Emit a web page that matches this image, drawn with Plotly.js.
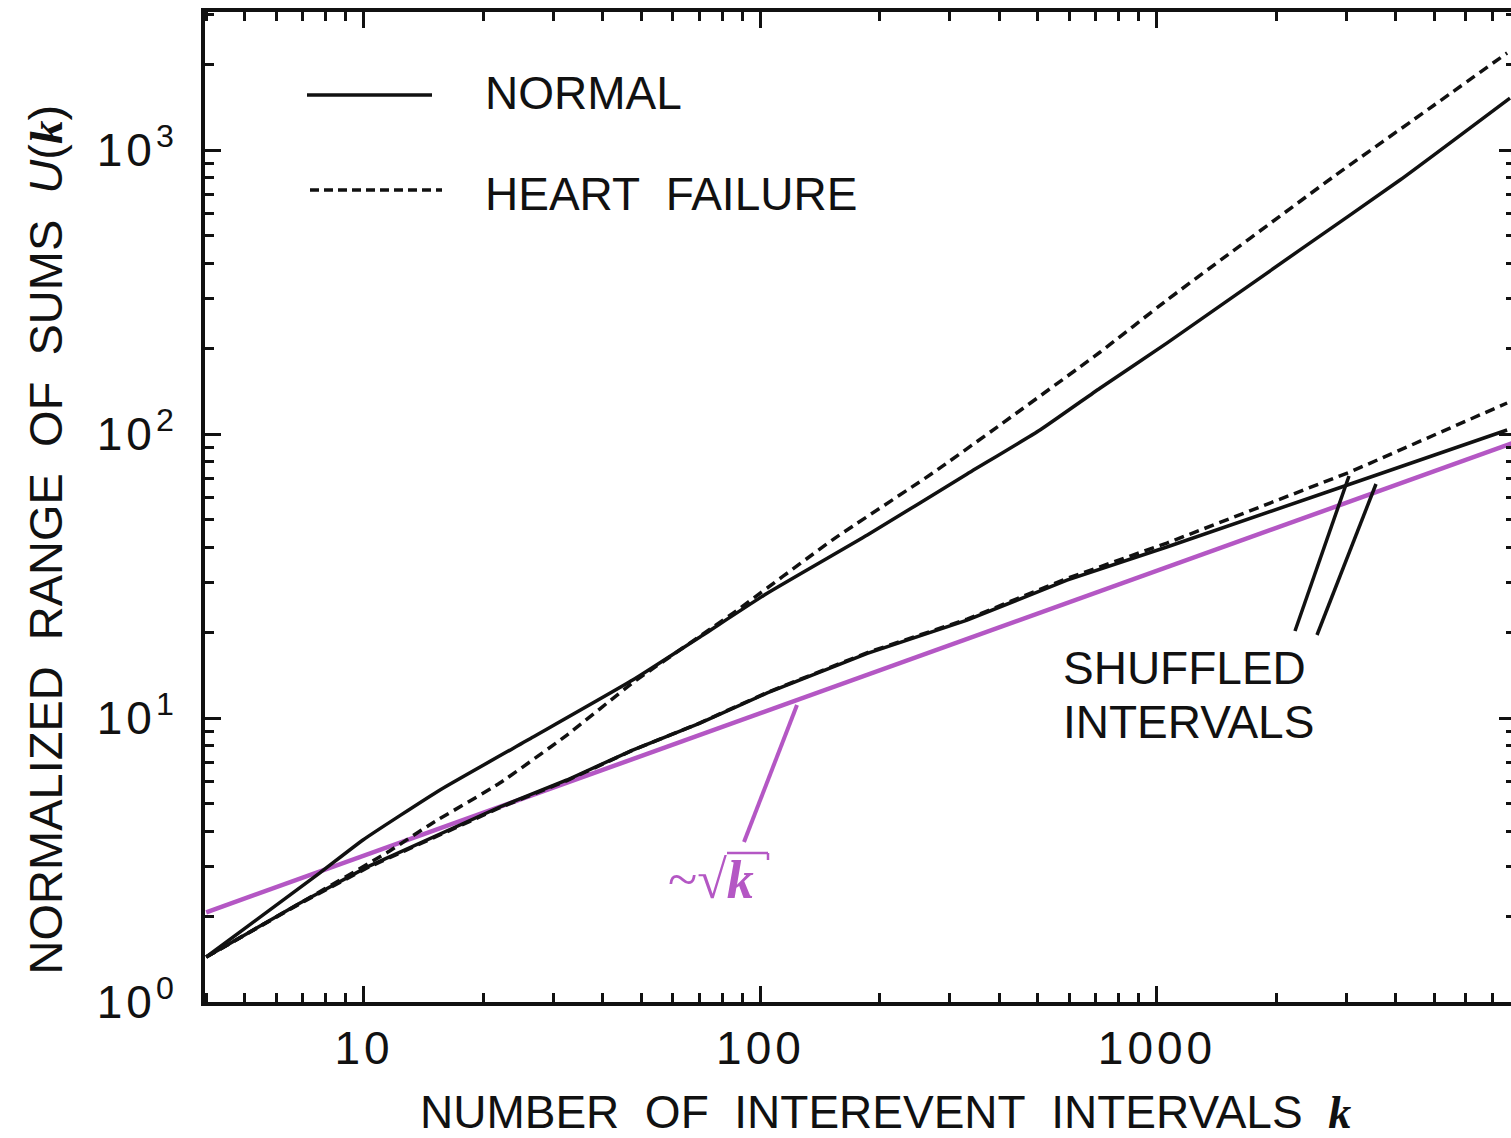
<!DOCTYPE html>
<html><head><meta charset="utf-8">
<script src="https://cdn.plot.ly/plotly-3.0.1.min.js"></script>
<style>
html,body{margin:0;padding:0;overflow:hidden;background:#fff;}
#chart{width:1516px;height:1138px;}
.xtick text,.ytick text{letter-spacing:4px;}
</style></head><body><div id="chart"></div>
<script>
// ---- data (k, U(k)) ----
const kNormal = [4.0, 7.74, 9.94, 15.55, 26.7, 47.6, 70.4, 104, 186, 332, 507, 718, 1059, 2295, 4102, 7769];
const uNormal = [1.44, 2.85, 3.72, 5.58, 8.57, 13.6, 19.3, 27.5, 44.1, 72.3, 103.3, 145, 209, 445, 784, 1524];

const kHeart = [4.0, 6.9, 11.4, 14.9, 22.0, 32.5, 47.6, 85.3, 152, 272, 402, 718, 1059, 2779, 4966, 7640];
const uHeart = [1.44, 2.23, 3.35, 4.27, 5.90, 8.71, 13.3, 23.4, 42.4, 72.9, 107.6, 194, 296, 803, 1429, 2196];

const kShufNormal = [4.0, 6.9, 10.2, 14.9, 22.0, 32.5, 47.6, 70.4, 104, 186, 332, 593, 1059, 2779, 7640];
const uShufNormal = [1.44, 2.23, 2.99, 3.81, 4.86, 6.05, 7.71, 9.60, 12.25, 16.9, 22.1, 30.6, 40.0, 63.5, 103.3];

const kShufHeart = [4.0, 6.9, 10.2, 14.9, 22.0, 32.5, 47.6, 70.4, 104, 186, 332, 593, 1059, 3069, 7640];
const uShufHeart = [1.44, 2.22, 2.97, 3.78, 4.83, 6.02, 7.70, 9.62, 12.3, 17.0, 22.3, 31.0, 41.3, 73.5, 128.6];

const kSqrt = [4.0, 8000];
const uSqrt = [2.07, 93.6];

const xTickVals = [10, 100, 1000];
const xTickText = ['10', '100', '1000'];
const yTickVals = [1, 10, 100, 1000];
const yTickText = ['10<sup>0</sup>', '10<sup>1</sup>', '10<sup>2</sup>', '10<sup>3</sup>'];

const legendLabels = ['NORMAL', 'HEART FAILURE'];
const shuffledLabel = ['SHUFFLED', 'INTERVALS'];

// ---- layout geometry ----
const W = 1516, H = 1138, L = 205, R = 1, T = 12, B = 136;
const PW = W - L - R, PH = H - T - B;
const px = x => (x - L) / PW;
const py = y => (H - B - y) / PH;

const INK = '#111111';
const PURPLE = '#b457c4';
const SANS = 'Liberation Sans, Arial, Helvetica, sans-serif';
const SERIF = 'Liberation Serif, Times New Roman, serif';
const NB = '&nbsp;';

function minorVals(lo, hi) {
  const out = [];
  for (let d = lo; d <= hi; d *= 10) for (let m = 2; m <= 9; m++) out.push(m * d);
  return out;
}

const traces = [
  {x: kSqrt, y: uSqrt, mode: 'lines', line: {color: PURPLE, width: 4.5}, showlegend: false, hoverinfo: 'skip'},
  {x: kShufNormal, y: uShufNormal, mode: 'lines', line: {color: INK, width: 3.5}, showlegend: false},
  {x: kShufHeart, y: uShufHeart, mode: 'lines', line: {color: INK, width: 3.5, dash: '10px,6px'}, showlegend: false},
  {x: kNormal, y: uNormal, mode: 'lines', line: {color: INK, width: 3.5, shape: 'spline', smoothing: 0.4}, name: legendLabels[0], showlegend: false},
  {x: kHeart, y: uHeart, mode: 'lines', line: {color: INK, width: 3.5, dash: '10px,6px', shape: 'spline', smoothing: 0.4}, name: legendLabels[1], showlegend: false}
];

const kSpan = '<span style="font-family:' + SERIF + '"><b><i>k</i></b></span>';

const layout = {
  width: W, height: H,
  margin: {l: L, r: R, t: T, b: B},
  paper_bgcolor: '#fff', plot_bgcolor: '#fff',
  showlegend: false,
  font: {family: SANS, color: INK, size: 46},
  xaxis: {
    type: 'log', range: [0.599, 3.903],
    showline: true, linewidth: 4, linecolor: INK, mirror: 'allticks',
    ticks: 'inside', ticklen: 16, tickwidth: 3, tickcolor: INK,
    tickmode: 'array', tickvals: xTickVals, ticktext: xTickText,
    tickfont: {family: SANS, size: 46, color: INK},
    ticklabelstandoff: 3,
    showgrid: false, zeroline: false,
    minor: {ticks: 'inside', ticklen: 9, tickwidth: 3, tickcolor: INK, tickmode: 'array', tickvals: minorVals(1, 1000), showgrid: false},
    title: {text: NB + NB + NB + NB + 'NUMBER' + NB + ' OF' + NB + ' INTEREVENT' + NB + ' INTERVALS' + NB + ' ' + kSpan,
            font: {family: SANS, size: 46, color: INK}, standoff: 32}
  },
  yaxis: {
    type: 'log', range: [0, 3.486],
    showline: true, linewidth: 4, linecolor: INK, mirror: 'allticks',
    ticks: 'inside', ticklen: 16, tickwidth: 3, tickcolor: INK,
    tickmode: 'array', tickvals: yTickVals, ticktext: yTickText,
    tickfont: {family: SANS, size: 46, color: INK},
    ticklabelstandoff: 14,
    showgrid: false, zeroline: false,
    minor: {ticks: 'inside', ticklen: 9, tickwidth: 3, tickcolor: INK, tickmode: 'array', tickvals: minorVals(1, 1000), showgrid: false},
    title: {text: 'NORMALIZED' + NB + ' RANGE' + NB + ' OF' + NB + ' SUMS' + NB + ' <i>U</i>(' + kSpan + ')' + NB + NB + NB + NB + NB,
            font: {family: SANS, size: 47, color: INK}, standoff: 20}
  },
  shapes: [
    // legend samples
    {type: 'line', xref: 'paper', yref: 'paper', x0: px(307), x1: px(432), y0: py(95), y1: py(95), line: {color: INK, width: 3.5}},
    {type: 'line', xref: 'paper', yref: 'paper', x0: px(310), x1: px(442), y0: py(190), y1: py(190), line: {color: INK, width: 3.5, dash: '9px,5px'}},
    // leader lines
    {type: 'line', xref: 'paper', yref: 'paper', x0: px(1295), y0: py(631), x1: px(1349), y1: py(476), line: {color: INK, width: 3.5}},
    {type: 'line', xref: 'paper', yref: 'paper', x0: px(1317), y0: py(635), x1: px(1376), y1: py(484), line: {color: INK, width: 3.5}},
    {type: 'line', xref: 'paper', yref: 'paper', x0: px(744), y0: py(842), x1: px(797), y1: py(705), line: {color: PURPLE, width: 4}},
    // radical overbar
    {type: 'line', xref: 'paper', yref: 'paper', x0: px(727), y0: py(853), x1: px(768), y1: py(853), line: {color: PURPLE, width: 2.5}},
    {type: 'line', xref: 'paper', yref: 'paper', x0: px(768), y0: py(853), x1: px(768), y1: py(860), line: {color: PURPLE, width: 2.5}}
  ],
  annotations: [
    {xref: 'paper', yref: 'paper', x: px(483), y: py(93), xanchor: 'left', yanchor: 'middle', showarrow: false,
     text: legendLabels[0], font: {family: SANS, size: 46, color: INK}},
    {xref: 'paper', yref: 'paper', x: px(483), y: py(194), xanchor: 'left', yanchor: 'middle', showarrow: false,
     text: legendLabels[1].replace(' ', '&nbsp; '), font: {family: SANS, size: 46, color: INK}},
    {xref: 'paper', yref: 'paper', x: px(1061), y: py(668), xanchor: 'left', yanchor: 'middle', showarrow: false,
     text: shuffledLabel[0], font: {family: SANS, size: 46, color: INK}},
    {xref: 'paper', yref: 'paper', x: px(1061), y: py(722), xanchor: 'left', yanchor: 'middle', showarrow: false,
     text: shuffledLabel[1], font: {family: SANS, size: 46, color: INK}},
    {xref: 'paper', yref: 'paper', x: px(666), y: py(880), xanchor: 'left', yanchor: 'middle', showarrow: false,
     text: '~√<b><i>k</i></b>', font: {family: SERIF, size: 54, color: PURPLE}}
  ]
};

Plotly.newPlot('chart', traces, layout, {staticPlot: true, displayModeBar: false});
</script></body></html>
